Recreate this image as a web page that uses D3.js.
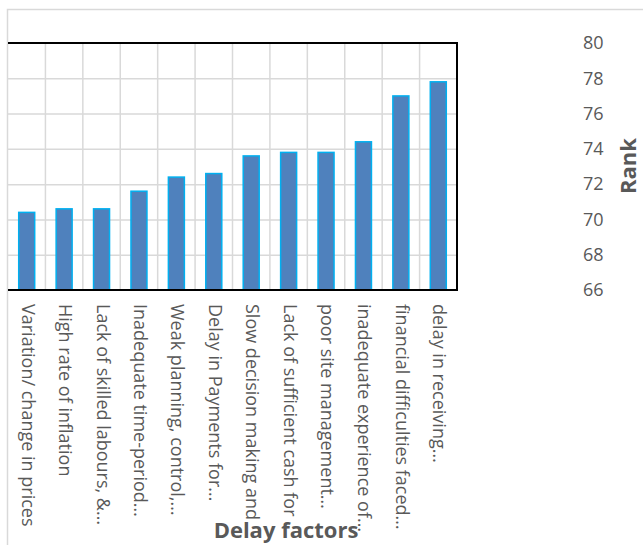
<!DOCTYPE html>
<html>
<head>
<meta charset="utf-8">
<script src="https://cdn.jsdelivr.net/npm/d3@7/dist/d3.min.js"></script>
<style>
  html, body { margin: 0; padding: 0; background: #fff; }
  svg { display: block; }
  text { font-family: "Open Sans", "Noto Sans", sans-serif; }
</style>
</head>
<body>
<svg id="chart" width="643" height="545"></svg>
<script>
// Delay factors and their rank scores
const categories = [
  "Variation/ change in prices",
  "High rate of inflation",
  "Lack of skilled labours, &…",
  "Inadequate time-period…",
  "Weak planning, control,…",
  "Delay in Payments for…",
  "Slow decision making and",
  "Lack of sufficient cash for",
  "poor site management…",
  "inadequate experience of…",
  "financial difficulties faced…",
  "delay in receiving…"
];
const rankValues = [70.4, 70.6, 70.6, 71.6, 72.4, 72.6, 73.6, 73.8, 73.8, 74.4, 77.0, 77.8];
const yTicks = [66, 68, 70, 72, 74, 76, 78, 80];

const svg = d3.select("#chart");
const plot = { left: 8, right: 457, top: 43, bottom: 290 };
const textColor = "#595959";

// chart frame (light outer border)
svg.append("rect")
  .attr("x", 7.5).attr("y", 9.5)
  .attr("width", 700).attr("height", 600)
  .attr("fill", "#fff")
  .attr("stroke", "#d9d9d9").attr("stroke-width", 1.5);

const x = d3.scaleBand()
  .domain(categories)
  .range([plot.left, plot.right])
  .paddingInner(0).paddingOuter(0);

const y = d3.scaleLinear()
  .domain([66, 80])
  .range([plot.bottom, plot.top]);

// horizontal gridlines
svg.append("g")
  .attr("transform", `translate(${plot.left},0)`)
  .call(d3.axisLeft(y).tickValues(yTicks.slice(1, -1))
    .tickSize(-(plot.right - plot.left)).tickFormat(""))
  .call(g => g.select(".domain").remove())
  .call(g => g.selectAll("line").attr("stroke", "#d9d9d9").attr("stroke-width", 1.5));

// vertical gridlines at category boundaries
svg.append("g")
  .selectAll("line")
  .data(categories.slice(1))
  .join("line")
  .attr("x1", d => x(d)).attr("x2", d => x(d))
  .attr("y1", plot.top).attr("y2", plot.bottom)
  .attr("stroke", "#d9d9d9").attr("stroke-width", 1.5);

// bars
const barW = 16;
svg.append("g")
  .selectAll("rect")
  .data(rankValues)
  .join("rect")
  .attr("x", (d, i) => x(categories[i]) + x.bandwidth() / 2 - barW / 2)
  .attr("y", d => y(d))
  .attr("width", barW)
  .attr("height", d => y(66) - y(d))
  .attr("fill", "#4F81BD")
  .attr("stroke", "#00B0F0")
  .attr("stroke-width", 1.5);

// plot-area border (top, right, bottom)
svg.append("path")
  .attr("d", `M${plot.left},${plot.top}H${plot.right}V${plot.bottom}H${plot.left}`)
  .attr("fill", "none")
  .attr("stroke", "#000")
  .attr("stroke-width", 2);

// value axis on the right
svg.append("g")
  .attr("transform", `translate(575,0)`)
  .call(d3.axisRight(y).tickValues(yTicks).tickSize(0).tickPadding(8))
  .call(g => g.select(".domain").remove())
  .call(g => g.selectAll("text")
    .attr("fill", textColor)
    .style("font-size", "18px")
    .style("font-family", "'Open Sans', sans-serif"));

// category axis with vertical labels
svg.append("g")
  .attr("transform", `translate(0,${plot.bottom})`)
  .call(d3.axisBottom(x).tickSize(0).tickPadding(0))
  .call(g => g.select(".domain").remove())
  .call(g => g.selectAll("text")
    .attr("transform", "translate(-5,14) rotate(90)")
    .attr("x", 0).attr("y", 0).attr("dy", 0)
    .attr("text-anchor", "start")
    .attr("fill", textColor)
    .style("font-size", "18px")
    .style("font-family", "'Open Sans', sans-serif"));

// axis titles
svg.append("text")
  .attr("transform", "translate(628,166) rotate(-90)")
  .attr("text-anchor", "middle")
  .attr("dy", "0.35em")
  .attr("fill", textColor)
  .style("font-size", "22px")
  .style("font-weight", "bold")
  .text("Rank");

svg.append("text")
  .attr("x", 286).attr("y", 530)
  .attr("text-anchor", "middle")
  .attr("dy", "0.35em")
  .attr("fill", textColor)
  .style("font-size", "22px")
  .style("font-weight", "bold")
  .text("Delay factors");
</script>
</body>
</html>
